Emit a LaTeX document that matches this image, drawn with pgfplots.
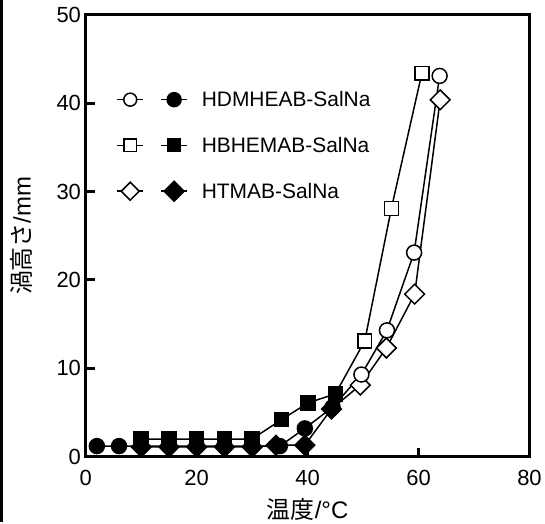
\documentclass[border=0pt]{standalone}
\usepackage{fontspec}
\setmainfont{Liberation Sans}
\newfontfamily\jp{Noto Sans CJK JP}
\usepackage{pgfplots}
\pgfplotsset{compat=1.18}
\begin{document}
\begin{tikzpicture}
\begin{axis}[
  scale only axis, width=445pt, height=443pt,
  xmin=0, xmax=80, ymin=0, ymax=50,
  xtick={0,20,...,80}, ytick={0,10,...,50},
  tick pos=left, tick align=inside,
  major tick length=9pt,
  line width=3pt,
  every tick/.style={line width=3pt, black},
  /pgf/number format/assume math mode=true,
  tick label style={font=\fontsize{22}{26}\selectfont},
  xticklabel style={yshift=-9pt},
  label style={font=\fontsize{24}{28}\selectfont},
  xlabel={{\jp 温度}/°C},
  ylabel={{\jp 渦高さ}/mm},
  xlabel style={yshift=-4pt},
  ylabel style={yshift=16pt},
  clip=false,
  every axis plot/.append style={line width=1.5pt, black},
  legend style={draw=none, fill=none, at={(rel axis cs:0.066,0.835)}, anchor=north west,
    font=\fontsize{21}{25}\selectfont, row sep=25pt, inner sep=0pt},
  legend cell align=left,
]
% connecting lines (filled = cooling, open = heating)
\addplot[no marks, forget plot] coordinates {
  (2,1.2) (6,1.2) (10,1.2) (15,1.2) (20,1.2) (25,1.2) (30,1.2) (35,1.2) (39.5,3.2) (44.5,5.6)
  (49.7,9.3) (54.3,14.3) (59.2,23.1) (63.8,43.1)
};
\addplot[no marks, forget plot] coordinates {
  (10,2) (15,2) (20,2) (25,2) (30,2) (35.3,4.2) (40.1,6.1) (45,7.1)
  (50.3,13.1) (55.1,28.1) (60.6,43.4)
};
\addplot[no marks, forget plot] coordinates {
  (10,1.1) (15,1.1) (20,1.1) (25,1.1) (30,1.1) (34.3,1.3) (39.5,1.3) (44.3,5.4)
  (49.5,8.1) (54.2,12.3) (59.3,18.4) (63.9,40.4)
};
% HBHEMAB-SalNa
\addplot[only marks, forget plot, mark=square*, mark size=7pt] coordinates {
  (10,2) (15,2) (20,2) (25,2) (30,2) (35.3,4.2) (40.1,6.1) (45,7.1)
};
\addplot[only marks, forget plot, mark=square*, mark size=7pt, mark options={fill=white}] coordinates {
  (50.3,13.1) (55.1,28.1) (60.6,43.4)
};
% HTMAB-SalNa
\addplot[only marks, forget plot, mark=square*, mark size=7pt, mark options={rotate=45}] coordinates {
  (10,1.1) (15,1.1) (20,1.1) (25,1.1) (30,1.1) (34.3,1.3) (39.5,1.3) (44.3,5.4)
};
\addplot[only marks, forget plot, mark=square*, mark size=7pt, mark options={rotate=45, fill=white}] coordinates {
  (49.5,8.1) (54.2,12.3) (59.3,18.4) (63.9,40.4)
};
% HDMHEAB-SalNa
\addplot[only marks, forget plot, mark=*, mark size=7.5pt] coordinates {
  (2,1.2) (6,1.2) (10,1.2) (15,1.2) (20,1.2) (25,1.2) (30,1.2) (35,1.2) (39.5,3.2) (44.5,5.6)
};
\addplot[only marks, forget plot, mark=*, mark size=7.5pt, mark options={fill=white}] coordinates {
  (49.7,9.3) (54.3,14.3) (59.2,23.1) (63.8,43.1)
};
\addlegendimage{legend image code/.code={
  \draw[line width=1.5pt] (0pt,0pt)--(26pt,0pt) (44pt,0pt)--(70pt,0pt);
  \draw[line width=1.5pt, fill=white] (13pt,0pt) circle (6.5pt);
  \fill (57pt,0pt) circle (7pt);
}}
\addlegendentry{\hspace{12pt}HDMHEAB-SalNa}
\addlegendimage{legend image code/.code={
  \draw[line width=1.5pt] (0pt,0pt)--(26pt,0pt) (44pt,0pt)--(70pt,0pt);
  \draw[line width=1.5pt, fill=white] (6.5pt,-6.5pt) rectangle (19.5pt,6.5pt);
  \fill (50.5pt,-6.5pt) rectangle (63.5pt,6.5pt);
}}
\addlegendentry{\hspace{12pt}HBHEMAB-SalNa}
\addlegendimage{legend image code/.code={
  \draw[line width=1.5pt] (0pt,0pt)--(26pt,0pt) (44pt,0pt)--(70pt,0pt);
  \draw[line width=1.5pt, fill=white] (4pt,0pt)--(13pt,9pt)--(22pt,0pt)--(13pt,-9pt)--cycle;
  \fill (47pt,0pt)--(57pt,10pt)--(67pt,0pt)--(57pt,-10pt)--cycle;
}}
\addlegendentry{\hspace{12pt}HTMAB-SalNa}
\end{axis}
\path ([shift={(-86pt,-66pt)}]current axis.south west) rectangle ([shift={(14pt,15pt)}]current axis.north east);
\fill ([shift={(-86pt,-66pt)}]current axis.south west) rectangle ++(3pt,524pt);
\end{tikzpicture}
\end{document}
